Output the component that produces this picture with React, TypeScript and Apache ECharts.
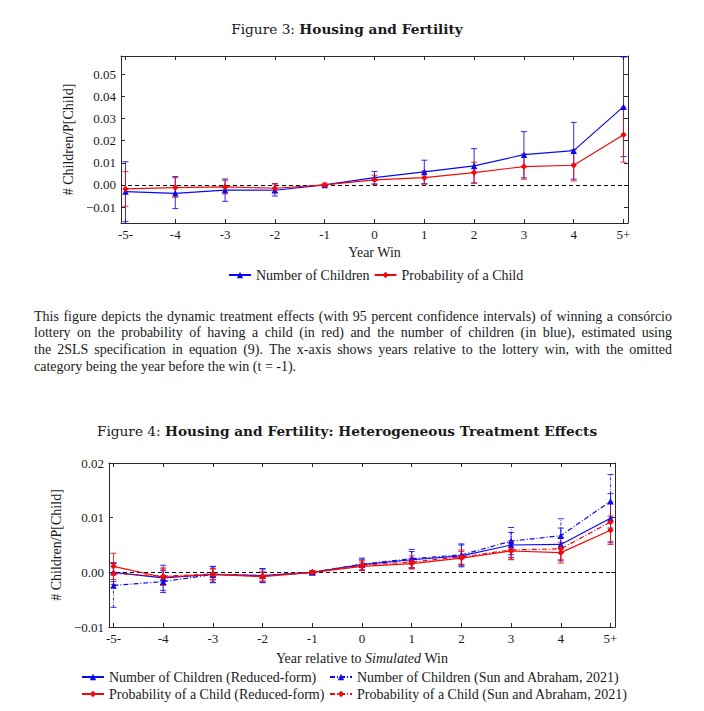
import React, { useEffect, useRef } from "react";
import * as echarts from "echarts";

// ---------- data ----------
const xValues = [-5, -4, -3, -2, -1, 0, 1, 2, 3, 4, 5];
const xTickLabels = ["-5-", "-4", "-3", "-2", "-1", "0", "1", "2", "3", "4", "5+"];
const fig3YTicks = [-0.01, 0, 0.01, 0.02, 0.03, 0.04, 0.05];
const fig4YTicks = [-0.01, 0, 0.01, 0.02];

// Figure 3 (2SLS)
const fig3Children = [-0.003, -0.0038, -0.0023, -0.0024, 0, 0.0033, 0.0059, 0.0086, 0.0137, 0.0155, 0.0354];
const fig3ChildrenLo = [-0.0166, -0.0107, -0.0074, -0.005, 0, 0.0005, 0.0006, 0.0008, 0.0032, 0.0026, 0.0128];
const fig3ChildrenHi = [0.0105, 0.0038, 0.0027, 0.0006, 0, 0.0061, 0.0112, 0.0164, 0.0241, 0.0283, 0.0578];
const fig3Prob = [-0.0018, -0.0012, -0.0009, -0.0015, 0, 0.0023, 0.0033, 0.0056, 0.0083, 0.0089, 0.0227];
const fig3ProbLo = [-0.0096, -0.0056, -0.0041, -0.0035, -0.0008, 0.0002, 0.0003, 0.0009, 0.0026, 0.0018, 0.0103];
const fig3ProbHi = [0.006, 0.0033, 0.0021, 0.0004, 0.0008, 0.0044, 0.0063, 0.0103, 0.014, 0.016, 0.0351];

// Figure 4 (heterogeneous treatment effects)
const fig4ChildrenRF = [0.0, -0.001, -0.0004, -0.0006, 0, 0.0014, 0.0023, 0.003, 0.005, 0.0051, 0.0099];
const fig4ChildrenRFLo = [-0.0017, -0.0033, -0.0019, -0.0018, -0.0002, 0.0004, 0.0008, 0.001, 0.0027, 0.0021, 0.0054];
const fig4ChildrenRFHi = [0.0017, 0.0013, 0.0011, 0.0006, 0.0002, 0.0024, 0.0038, 0.005, 0.0073, 0.0081, 0.0144];
const fig4ChildrenSA = [-0.0024, -0.0017, -0.0004, -0.0006, 0, 0.0015, 0.0025, 0.0032, 0.0057, 0.0067, 0.013];
const fig4ChildrenSALo = [-0.0064, -0.0037, -0.0018, -0.0019, -0.0002, 0.0004, 0.0008, 0.0012, 0.0032, 0.0036, 0.0081];
const fig4ChildrenSAHi = [0.0016, 0.0003, 0.001, 0.0007, 0.0002, 0.0026, 0.0042, 0.0052, 0.0082, 0.0098, 0.0179];
const fig4ProbRF = [0.0011, -0.0009, -0.0004, -0.0008, 0, 0.0011, 0.0016, 0.0026, 0.0039, 0.0036, 0.0077];
const fig4ProbRFLo = [-0.0013, -0.0024, -0.0014, -0.0016, -0.0003, 0.0003, 0.0006, 0.0014, 0.0023, 0.0017, 0.0051];
const fig4ProbRFHi = [0.0035, 0.0006, 0.0006, 0.0, 0.0003, 0.0019, 0.0026, 0.0038, 0.0055, 0.0055, 0.0103];
const fig4ProbSA = [-0.0002, -0.0007, -0.0003, -0.0007, 0, 0.0013, 0.0019, 0.0028, 0.0041, 0.0043, 0.0092];
const fig4ProbSALo = [-0.0022, -0.0022, -0.0013, -0.0016, -0.0003, 0.0004, 0.0008, 0.0015, 0.0024, 0.0023, 0.0056];
const fig4ProbSAHi = [0.0018, 0.0008, 0.0007, 0.0002, 0.0003, 0.0022, 0.003, 0.0041, 0.0058, 0.0063, 0.0128];

const captionLines = [
  "This figure depicts the dynamic treatment effects (with 95 percent confidence intervals) of winning a consórcio",
  "lottery on the probability of having a child (in red) and the number of children (in blue), estimated using",
  "the 2SLS specification in equation (9). The x-axis shows years relative to the lottery win, with the omitted",
  "category being the year before the win (t = -1).",
];

// ---------- styling ----------
const BLUE = "#0a0af0";
const RED = "#f00a0a";
const AXIS = "#2a2a2a";
const TEXT = "#1a1a1a";
const FONT_NUM = '"Liberation Serif", serif';
const FONT_TEXT = '"Liberation Serif", serif';
const FONT_TITLE = '"DejaVu Serif", serif';
const PARA_SIZE = 14;
const TEXT_SIZE = 14;

const pairs = (ys: number[]) => xValues.map((x, i) => [x, ys[i]]);
const bars = (lo: number[], hi: number[]) => xValues.map((x, i) => [x, lo[i], hi[i]]);

function errorBars(name: string, xi: number, yi: number, lo: number[], hi: number[], color: string, dash: boolean) {
  return {
    type: "custom",
    name,
    xAxisIndex: xi,
    yAxisIndex: yi,
    silent: true,
    z: 2,
    data: bars(lo, hi),
    encode: { x: 0, y: [1, 2] },
    renderItem: (_p: any, api: any) => {
      const x = api.value(0);
      const a = api.coord([x, api.value(1)]);
      const b = api.coord([x, api.value(2)]);
      const cap = 3;
      const style = { stroke: color, lineWidth: 1, opacity: 0.85, fill: "none" };
      const vstyle = dash ? { ...style, lineDash: [3, 1.5, 0.8, 1.5] } : style;
      return {
        type: "group",
        children: [
          { type: "line", shape: { x1: a[0], y1: a[1], x2: b[0], y2: b[1] }, style: vstyle },
          { type: "line", shape: { x1: a[0] - cap, y1: a[1], x2: a[0] + cap, y2: a[1] }, style },
          { type: "line", shape: { x1: b[0] - cap, y1: b[1], x2: b[0] + cap, y2: b[1] }, style },
        ],
      };
    },
  };
}

function lineSeries(name: string, xi: number, yi: number, ys: number[], color: string, symbol: string, dash: boolean, zeroLine = false) {
  const s: any = {
    type: "line",
    name,
    xAxisIndex: xi,
    yAxisIndex: yi,
    data: pairs(ys),
    symbol,
    symbolSize: 6.5,
    showSymbol: true,
    silent: true,
    z: 3,
    lineStyle: { color, width: 1.2, type: dash ? [5, 2, 1, 2] : "solid" },
    itemStyle: { color },
  };
  if (zeroLine) {
    s.markLine = {
      silent: true,
      symbol: ["none", "none"],
      label: { show: false },
      lineStyle: { color: "#000", type: [4, 3], width: 1 },
      data: [{ yAxis: 0 }],
      z: 1,
    };
  }
  return s;
}

function xAxes(gridIndex: number, name: any, nameGap: number, rich: any) {
  const base: any = {
    type: "value",
    gridIndex,
    min: -5.09,
    max: 5.09,
    splitLine: { show: false },
    axisLine: { show: true, onZero: false, lineStyle: { color: AXIS, width: 1 } },
    axisTick: { show: true, inside: true, length: 4, customValues: xValues, lineStyle: { color: AXIS } },
  };
  return [
    {
      ...base,
      position: "bottom",
      name,
      nameLocation: "middle",
      nameGap,
      nameTextStyle: { fontFamily: FONT_TEXT, fontSize: TEXT_SIZE, color: TEXT, rich },
      axisLabel: {
        show: true,
        customValues: xValues,
        formatter: (v: number) => xTickLabels[xValues.indexOf(Math.round(v))],
        fontFamily: FONT_NUM,
        fontSize: 13,
        color: TEXT,
        margin: 5,
      },
    },
    { ...base, position: "top", axisLabel: { show: false } },
  ];
}

function yAxes(gridIndex: number, min: number, max: number, ticks: number[], nameGap: number) {
  const base: any = {
    type: "value",
    gridIndex,
    min,
    max,
    splitLine: { show: false },
    axisLine: { show: true, onZero: false, lineStyle: { color: AXIS, width: 1 } },
    axisTick: { show: true, inside: true, length: 4, customValues: ticks, lineStyle: { color: AXIS } },
  };
  return [
    {
      ...base,
      position: "left",
      name: "# Children/P[Child]",
      nameLocation: "middle",
      nameGap,
      nameTextStyle: { fontFamily: FONT_TEXT, fontSize: TEXT_SIZE, color: TEXT },
      axisLabel: {
        show: true,
        customValues: ticks,
        formatter: (v: number) => (v < 0 ? "\u2212" : "") + Math.abs(v).toFixed(2),
        fontFamily: FONT_NUM,
        fontSize: 13,
        color: TEXT,
        margin: 5,
      },
    },
    { ...base, position: "right", axisLabel: { show: false } },
  ];
}

function captionGraphics() {
  const els: any[] = [];
  const canvas = document.createElement("canvas");
  const ctx = canvas.getContext("2d") as CanvasRenderingContext2D;
  ctx.font = `${PARA_SIZE}px "Liberation Serif"`;
  const left = 34;
  const right = 672;
  const ys = [316, 332.7, 349.4, 366];
  captionLines.forEach((line, li) => {
    const words = line.split(" ");
    const widths = words.map((w) => ctx.measureText(w).width);
    const total = widths.reduce((a, b) => a + b, 0);
    const justify = li < captionLines.length - 1;
    const gap = justify ? (right - left - total) / (words.length - 1) : ctx.measureText(" ").width;
    let x = left;
    words.forEach((w, wi) => {
      els.push({
        type: "text",
        x,
        y: ys[li],
        silent: true,
        style: {
          text: w,
          fontFamily: FONT_TEXT,
          fontSize: PARA_SIZE,
          fill: TEXT,
          align: "left",
          verticalAlign: "middle",
        },
      });
      x += widths[wi] + gap;
    });
  });
  return els;
}

function titleGraphic(num: string, bold: string, x: number, y: number) {
  return {
    type: "text",
    x,
    y,
    silent: true,
    style: {
      text: `{r|Figure ${num}: }{b|${bold}}`,
      align: "center",
      verticalAlign: "middle",
      rich: {
        r: { fontFamily: FONT_TITLE, fontSize: 13.7, fill: TEXT },
        b: { fontFamily: FONT_TITLE, fontSize: 13.7, fontWeight: "bold", fill: TEXT },
      },
    },
  };
}

const legendText = { fontFamily: FONT_TEXT, fontSize: TEXT_SIZE, color: TEXT };

export default function App() {
  const ref = useRef<HTMLDivElement>(null);
  useEffect(() => {
    if (!ref.current) return;
    const chart = echarts.init(ref.current, undefined, { renderer: "svg" });
    const names3 = ["Number of Children", "Probability of a Child"];
    const names4 = [
      "Number of Children (Reduced-form)",
      "Number of Children (Sun and Abraham, 2021)",
      "Probability of a Child (Reduced-form)",
      "Probability of a Child (Sun and Abraham, 2021)",
    ];
    const legendBase = {
      padding: 0,
      itemWidth: 22,
      itemHeight: 8,
      textStyle: legendText,
      selectedMode: false,
    };
    const option: any = {
      animation: false,
      backgroundColor: "#fff",
      grid: [
        { left: 121, top: 56, width: 507, height: 167 },
        { left: 109, top: 463, width: 506, height: 164 },
      ],
      xAxis: [
        ...xAxes(0, "Year Win", 22, {}),
        ...xAxes(1, "Year relative to {i|Simulated} Win", 24, {
          i: { fontFamily: FONT_TEXT, fontSize: TEXT_SIZE, fontStyle: "italic", color: TEXT },
        }),
      ],
      yAxis: [
        ...yAxes(0, -0.0172, 0.0583, fig3YTicks, 46),
        ...yAxes(2, -0.01, 0.02, fig4YTicks, 45).map((a: any) => ({ ...a, gridIndex: 1 })),
      ],
      legend: [
        { ...legendBase, data: names3, left: 228, top: 268, itemGap: 4 },
        { ...legendBase, data: [names4[0], names4[2]], orient: "vertical", left: 81, top: 670, itemGap: 3 },
        { ...legendBase, data: [names4[1], names4[3]], orient: "vertical", left: 329, top: 670, itemGap: 3 },
      ],
      series: [
        errorBars("eb3c", 0, 0, fig3ChildrenLo, fig3ChildrenHi, BLUE, false),
        errorBars("eb3p", 0, 0, fig3ProbLo, fig3ProbHi, RED, false),
        lineSeries(names3[0], 0, 0, fig3Children, BLUE, "triangle", false, true),
        lineSeries(names3[1], 0, 0, fig3Prob, RED, "diamond", false),

        errorBars("eb4a", 2, 2, fig4ChildrenRFLo, fig4ChildrenRFHi, BLUE, false),
        errorBars("eb4b", 2, 2, fig4ChildrenSALo, fig4ChildrenSAHi, BLUE, true),
        errorBars("eb4c", 2, 2, fig4ProbRFLo, fig4ProbRFHi, RED, false),
        errorBars("eb4d", 2, 2, fig4ProbSALo, fig4ProbSAHi, RED, true),
        lineSeries(names4[0], 2, 2, fig4ChildrenRF, BLUE, "triangle", false, true),
        lineSeries(names4[1], 2, 2, fig4ChildrenSA, BLUE, "triangle", true),
        lineSeries(names4[2], 2, 2, fig4ProbRF, RED, "diamond", false),
        lineSeries(names4[3], 2, 2, fig4ProbSA, RED, "diamond", true),
      ],
      graphic: [
        titleGraphic("3", "Housing and Fertility", 347, 29),
        titleGraphic("4", "Housing and Fertility: Heterogeneous Treatment Effects", 347, 431),
        ...captionGraphics(),
      ],
    };
    chart.setOption(option);
    return () => chart.dispose();
  }, []);
  return (
    <div
      ref={ref}
      style={{ position: "absolute", left: 0, top: 0, width: 704, height: 711, background: "#fff" }}
    />
  );
}
